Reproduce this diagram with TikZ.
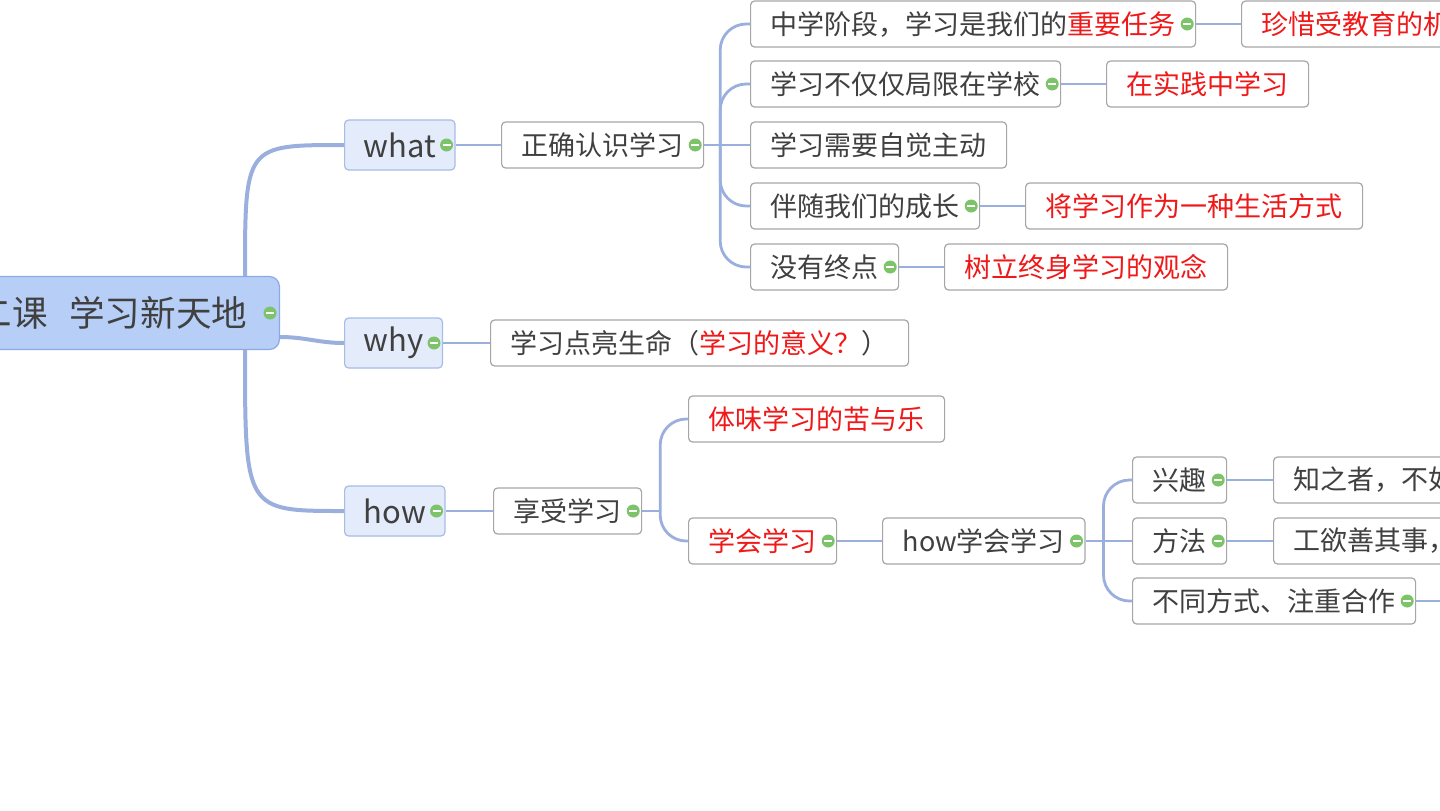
\documentclass[tikz,border=0pt]{standalone}
\usepackage{fontspec}
\setmainfont{Noto Sans CJK SC}
\definecolor{txt}{HTML}{404040}
\definecolor{hot}{HTML}{F01818}
\definecolor{link}{HTML}{9AAFDD}
\definecolor{togreen}{HTML}{7CC36A}
\definecolor{rootfill}{HTML}{B7CFF6}
\definecolor{rootline}{HTML}{8EA9E2}
\definecolor{topfill}{HTML}{E4ECFB}
\definecolor{topline}{HTML}{A8BCE6}
\definecolor{boxline}{HTML}{A6A6A6}
\begin{document}
\begin{tikzpicture}[x=0.5pt,y=-0.5pt,
  topic/.style={draw=boxline, line width=0.6pt, fill=white, rounded corners=2pt, text=txt,
    font=\fontsize{13.5}{16}\selectfont, minimum height=23pt, inner xsep=10pt, inner ysep=0pt, anchor=west},
  note/.style={topic, text=hot},
  main/.style={topic, draw=topline, fill=topfill, font=\fontsize{15.5}{18}\selectfont,
    minimum height=25pt, inner xsep=9.5pt},
  central/.style={topic, draw=rootline, fill=rootfill, font=\fontsize{17.8}{20}\selectfont,
    minimum height=36.5pt, inner xsep=16pt, rounded corners=5pt, anchor=east},
  branch/.style={draw=link, line width=1.4pt},
  trunk/.style={draw=link, line width=2pt},
  tog/.style={circle, fill=togreen, inner sep=0pt, minimum size=6.5pt,
    path picture={\draw[white,line width=1.1pt] ([xshift=-2pt]path picture bounding box.center)
      -- ([xshift=2pt]path picture bounding box.center);}}]
  \useasboundingbox (0,0) rectangle (1440,810);
  \clip (0,0) rectangle (1440,810);
  % Central topic
  \node[central] (root) at (280,313) {第二课\hspace{0.6em}学习新天地};
  % Main topics
  \node[main] (what) at (344,145) {what};
  \node[main] (why) at (344,343) {why};
  \node[main] (how) at (344,511) {how};
  % what
  \node[topic] (zq) at (501,145) {正确认识学习};
  \node[topic] (a1) at (750,24) {中学阶段，学习是我们的\textcolor{hot}{重要任务}};
  \node[note] (a1n) at (1241,24) {珍惜受教育的机会};
  \node[topic] (a2) at (750,84) {学习不仅仅局限在学校};
  \node[note] (a2n) at (1106,84) {在实践中学习};
  \node[topic] (a3) at (750,145) {学习需要自觉主动};
  \node[topic] (a4) at (750,206) {伴随我们的成长};
  \node[note] (a4n) at (1025,206) {将学习作为一种生活方式};
  \node[topic] (a5) at (750,267) {没有终点};
  \node[note] (a5n) at (944,267) {树立终身学习的观念};
  % why
  \node[topic] (ym) at (490,343) {学习点亮生命（\textcolor{hot}{学习的意义？}）};
  % how
  \node[topic] (xs) at (493,511) {享受学习};
  \node[note] (b1) at (688,419) {体味学习的苦与乐};
  \node[note] (b2) at (688,541) {学会学习};
  \node[topic] (hx) at (882,541) {how学会学习};
  \node[topic] (c1) at (1132,480) {兴趣};
  \node[topic] (c1n) at (1273,480) {知之者，不如好之者，好之者不如乐之者};
  \node[topic] (c2) at (1132,541) {方法};
  \node[topic] (c2n) at (1273,541) {工欲善其事，必先利其器};
  \node[topic] (c3) at (1132,601) {不同方式、注重合作};
  \coordinate (off) at (1450,601);
  % Trunks from the central topic
  \coordinate (rtop) at ([xshift=-17.5pt]root.north east);
  \coordinate (rbot) at ([xshift=-17.5pt]root.south east);
  \coordinate (rmid) at ([yshift=-12pt]root.east);
  \draw[trunk] (rtop) .. controls (rtop |- what.west) .. (what.west);
  \draw[trunk] (rbot) .. controls (rbot |- how.west) .. (how.west);
  \draw[trunk] (rmid) to[out=0,in=180] (why.west);
  % Straight links
  \draw[branch] (what.east) -- (zq.west);
  \draw[branch] (why.east) -- (ym.west);
  \draw[branch] (how.east) -- (xs.west);
  \draw[branch] (a1.east) -- (a1n.west);
  \draw[branch] (a2.east) -- (a2n.west);
  \draw[branch] (a4.east) -- (a4n.west);
  \draw[branch] (a5.east) -- (a5n.west);
  \draw[branch] (b2.east) -- (hx.west);
  \draw[branch] (c1.east) -- (c1n.west);
  \draw[branch] (c2.east) -- (c2n.west);
  \draw[branch] (c3.east) -- (off);
  % Forks
  \coordinate (j1) at ([xshift=8pt]zq.east);
  \draw[branch] (zq.east) -- (a3.west);
  \foreach \c in {a1,a2,a4,a5}
    \draw[branch, rounded corners=13pt] (j1) |- (\c.west);
  \coordinate (j2) at ([xshift=9pt]xs.east);
  \draw[branch] (xs.east) -- (j2);
  \foreach \c in {b1,b2}
    \draw[branch, rounded corners=13pt] (j2) |- (\c.west);
  \coordinate (j3) at ([xshift=9pt]hx.east);
  \draw[branch] (hx.east) -- (c2.west);
  \foreach \c in {c1,c3}
    \draw[branch, rounded corners=13pt] (j3) |- (\c.west);
  % Collapse buttons
  \node[tog] at ([xshift=-5pt]root.east) {};
  \foreach \n in {what,why,how,zq,a1,a2,a4,a5,xs,b2,hx,c1,c2,c3}
    \node[tog] at ([xshift=-4.5pt]\n.east) {};
\end{tikzpicture}
\end{document}
